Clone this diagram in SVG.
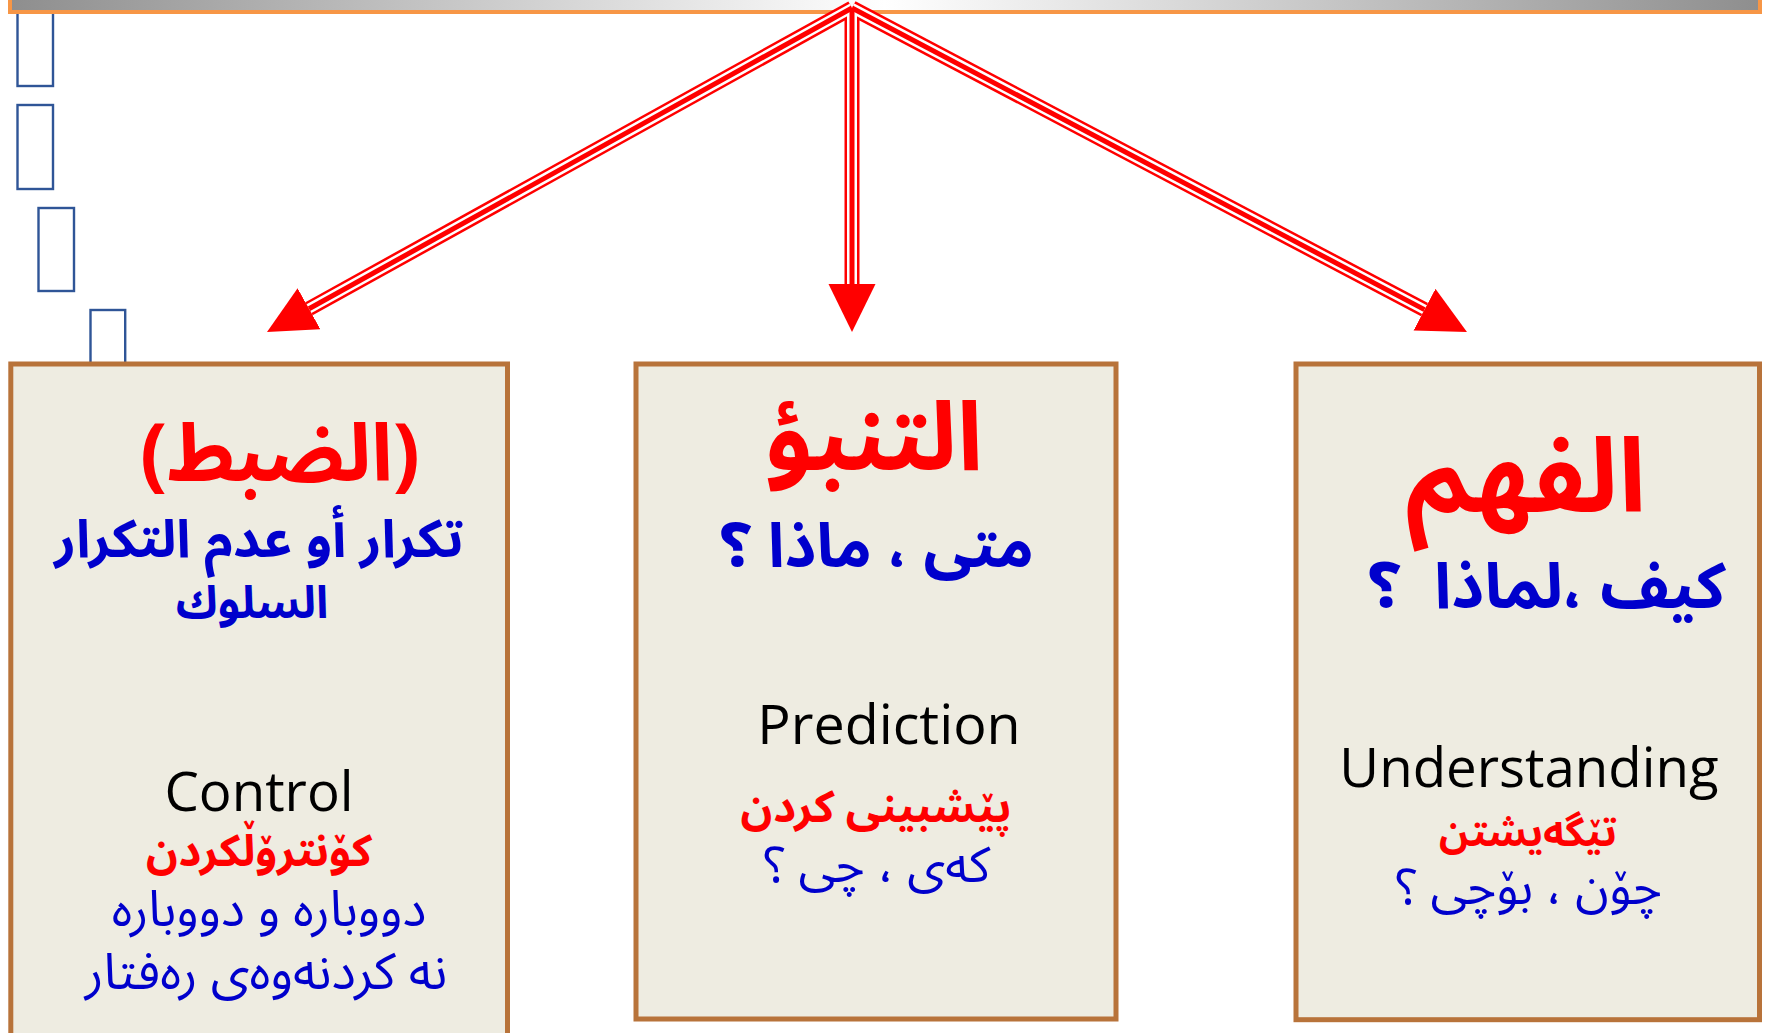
<svg xmlns="http://www.w3.org/2000/svg" width="1765" height="1033" viewBox="0 0 1765 1033">
<defs>
<linearGradient id="barGrad" x1="0" y1="0" x2="1" y2="0">
<stop offset="0" stop-color="#8E8E8E"/>
<stop offset="0.5" stop-color="#FFFFFF"/>
<stop offset="1" stop-color="#8E8E8E"/>
</linearGradient>
<marker id="head" markerUnits="userSpaceOnUse" markerWidth="50" markerHeight="50" refX="0" refY="23.5" orient="auto" viewBox="0 0 50 50">
<path d="M0,0 L48,23.5 L0,47 Z" fill="#FF0000"/>
</marker>
<style>
.box{fill:#EEECE1;stroke:#B8733A;stroke-width:5}
.tofu{fill:#FFFFFF;stroke:#2F5597;stroke-width:2.4}
.ar{font-family:"Noto Sans Arabic","Noto Sans Arabic UI","DejaVu Sans",sans-serif;text-anchor:middle;direction:rtl;white-space:pre}
.b{font-weight:bold}
.red{fill:#FF0000}
.blue{fill:#0000CC}
.en{font-family:"Open Sans","Noto Sans",sans-serif;text-anchor:middle;fill:#000000}
.l1{fill:none;stroke:#FF0000;stroke-width:15}
.l2{fill:none;stroke:#FFFFFF;stroke-width:10}
.l3{fill:none;stroke:#FF0000;stroke-width:5}
</style>
</defs>
<rect width="1765" height="1033" fill="#FFFFFF"/>

<g id="tofu-marks">
<rect class="tofu" x="17.5" y="4" width="35.5" height="82"/>
<rect class="tofu" x="17.5" y="105" width="35.5" height="84"/>
<rect class="tofu" x="38.5" y="208" width="35.5" height="83"/>
<rect class="tofu" x="90.5" y="310" width="34.7" height="70"/>
</g>

<g id="top-bar">
<rect x="10" y="-10" width="1750" height="22" fill="url(#barGrad)" stroke="#F79646" stroke-width="4"/>
</g>

<g id="connectors">
<path class="l1" d="M852,8 L309,308.7"/>
<path class="l1" d="M852,8 L852,284"/>
<path class="l1" d="M852,8 L1424.5,309.6"/>
<path class="l2" d="M852,8 L309,308.7"/>
<path class="l2" d="M852,8 L852,284"/>
<path class="l2" d="M852,8 L1424.5,309.6"/>
<path class="l3" d="M852,8 L309,308.7" marker-end="url(#head)"/>
<path class="l3" d="M852,8 L852,284" marker-end="url(#head)"/>
<path class="l3" d="M852,8 L1424.5,309.6" marker-end="url(#head)"/>
</g>

<g id="node-control">
<rect class="box" x="10.8" y="364" width="496.7" height="700"/>
<text class="ar b red" x="280" y="481" font-size="80">(الضبط)</text>
<text class="ar b blue" x="259" y="557" font-size="52.5">تكرار أو عدم التكرار</text>
<text class="ar b blue" x="252" y="618" font-size="45">السلوك</text>
<text class="en" x="259" y="811" font-size="54.6">Control</text>
<text class="ar b red" x="259" y="866" font-size="44">کۆنترۆڵکردن</text>
<text class="ar blue" x="269" y="926" font-size="50">دووبارە و دووبارە</text>
<text class="ar blue" x="266" y="989" font-size="51">نە کردنەوەی رەفتار</text>
</g>

<g id="node-prediction">
<rect class="box" x="636" y="364" width="480" height="655"/>
<text class="ar b red" x="874" y="470" font-size="96">التنبؤ</text>
<text class="ar b blue" x="877" y="567" font-size="61.5">متى ، ماذا ؟</text>
<text class="en" x="889" y="744" font-size="55.6">Prediction</text>
<text class="ar b red" x="876" y="822" font-size="44">پێشبینی کردن</text>
<text class="ar blue" x="877" y="882" font-size="50">کەی ، چی ؟</text>
</g>

<g id="node-understanding">
<rect class="box" x="1296" y="364" width="463.5" height="655.7"/>
<text class="ar b red" x="1526" y="511" font-size="103">الفهم</text>
<text class="ar b blue" x="1547" y="608" font-size="63.5">كيف ،لماذا  ؟</text>
<text class="en" x="1529" y="787" font-size="54.6">Understanding</text>
<text class="ar b red" x="1528" y="846" font-size="40.2">تێگەیشتن</text>
<text class="ar blue" x="1529" y="904" font-size="49.7">چۆن ، بۆچی ؟</text>
</g>
</svg>
